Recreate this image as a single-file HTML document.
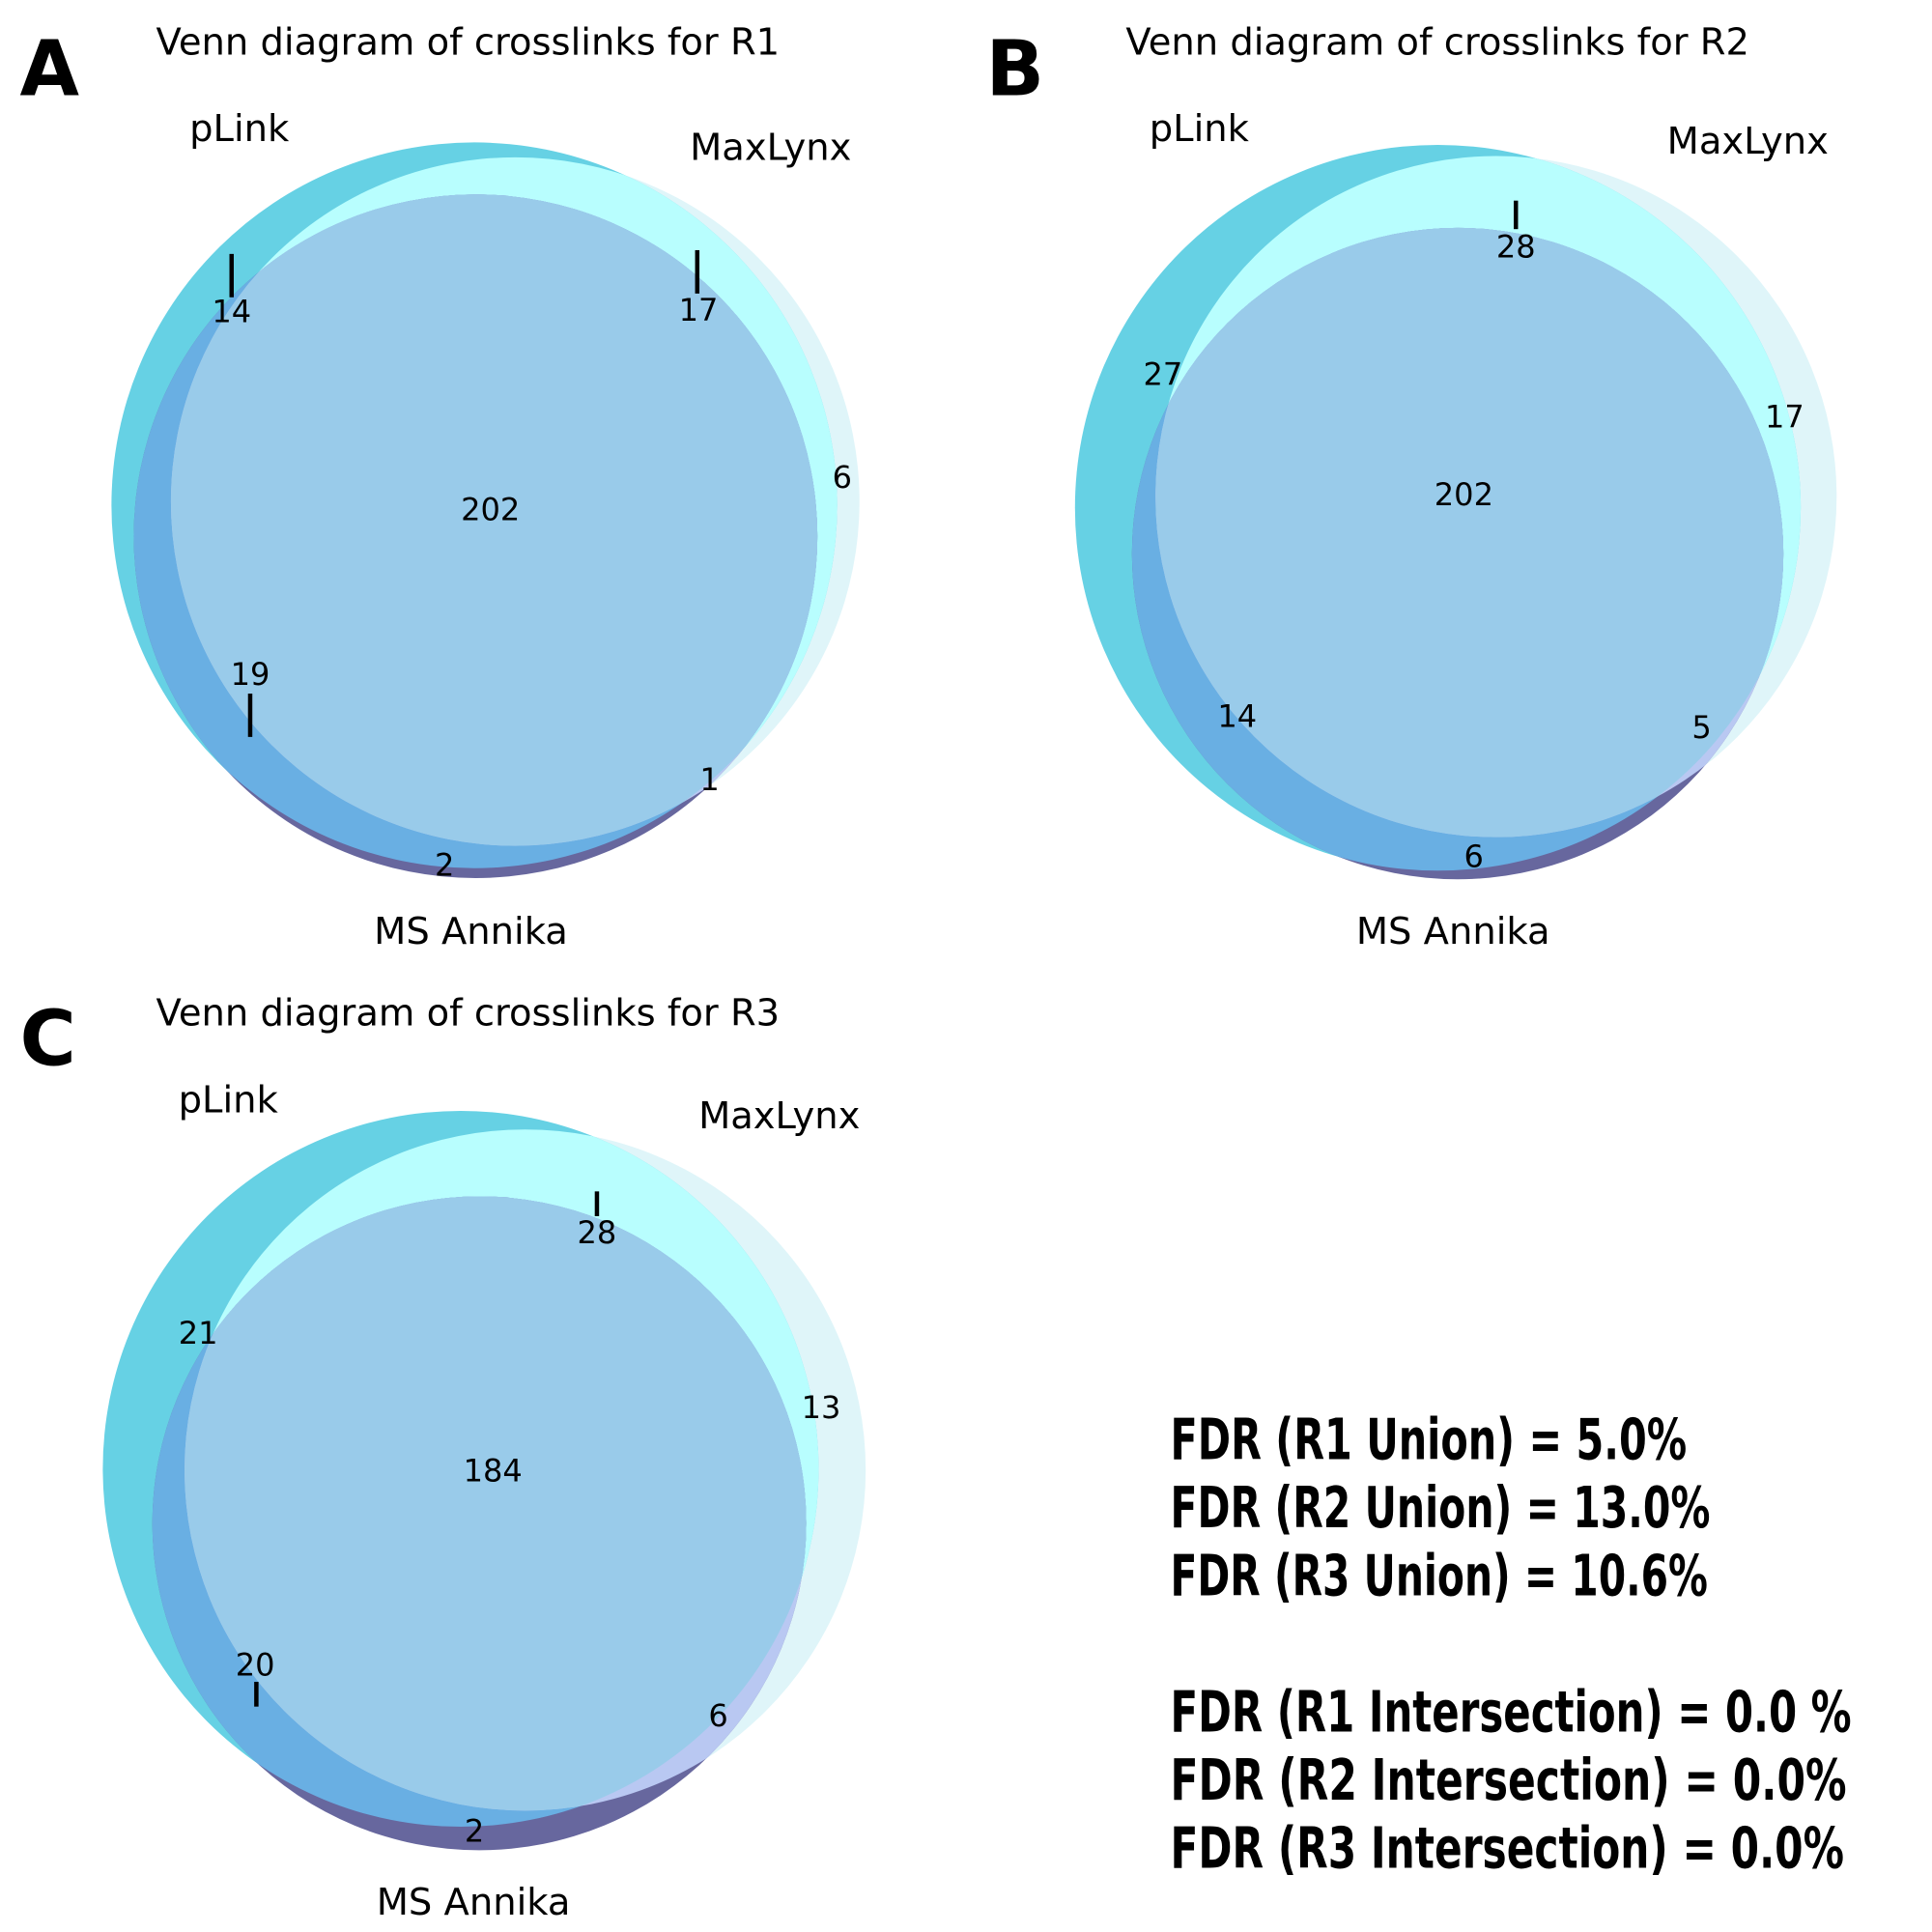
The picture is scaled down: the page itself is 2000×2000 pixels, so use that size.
<!DOCTYPE html>
<html><head><meta charset="utf-8"><style>
html,body{margin:0;padding:0;background:#fff;}
svg{display:block;}
text{font-family:"DejaVu Sans","Liberation Sans",sans-serif;}
</style></head><body>
<svg id="fig" width="2000" height="2000" viewBox="0 0 1560 1560" xmlns="http://www.w3.org/2000/svg">
<defs id="defs"></defs>
<g id="panels"></g>
<g font-weight="bold" font-size="46" fill="#000" style="font-family:'Liberation Sans',sans-serif">
<text x="945" y="1178" textLength="417" lengthAdjust="spacingAndGlyphs">FDR (R1 Union)  = 5.0%</text>
<text x="945" y="1233" textLength="436" lengthAdjust="spacingAndGlyphs">FDR (R2 Union) = 13.0%</text>
<text x="945" y="1288" textLength="434" lengthAdjust="spacingAndGlyphs">FDR (R3 Union) = 10.6%</text>
<text x="945" y="1398" textLength="550" lengthAdjust="spacingAndGlyphs">FDR (R1 Intersection)  = 0.0 %</text>
<text x="945" y="1453" textLength="546" lengthAdjust="spacingAndGlyphs">FDR (R2 Intersection) = 0.0%</text>
<text x="945" y="1508" textLength="544" lengthAdjust="spacingAndGlyphs">FDR (R3 Intersection) = 0.0%</text>
</g>
</svg>
<script>
// Region counts per replicate: [pLink only, MaxLynx only, pLink∩MaxLynx, MS only, pLink∩MS, MaxLynx∩MS, all three]
const panelNames = ["R1", "R2", "R3"];
const countsR1 = [14, 6, 17, 2, 19, 1, 202];
const countsR2 = [27, 17, 28, 6, 14, 5, 202];
const countsR3 = [21, 13, 28, 2, 20, 6, 184];
const allCounts = [countsR1, countsR2, countsR3];

const NS = "http://www.w3.org/2000/svg";
const defs = document.getElementById("defs");
const root = document.getElementById("panels");

// layout (geometry, not data)
const layouts = [
  {letter:"A", lx:16, ly:77, tx:126, ty:44,
   P:[383,408,293], M:[416,405,278], S:[384,433,276],
   setLbl:[[153,114],[557,129],[302,762]],
   lbl:[[187,260],[680,394],[564,259],[359,707],[202,553],[573,638],[396,420]],
   ticks:[[187,205,187,240],[563,202,563,237],[202,560,202,595]]},
  {letter:"B", lx:796, ly:77, tx:909, ty:44,
   P:[1161,410,293], M:[1208,401,275], S:[1177,447,263],
   setLbl:[[928,114],[1346,124],[1095,762]],
   lbl:[[939,311],[1441,345],[1224,208],[1190,700],[999,587],[1374,596],[1182,408]],
   ticks:[[1224,162,1224,185]]},
  {letter:"C", lx:16, ly:860, tx:126, ty:828,
   P:[372,1186,289], M:[424,1187,275], S:[387,1230,264],
   setLbl:[[144,898],[564,911],[304,1546]],
   lbl:[[160,1085],[663,1145],[482,1004],[383,1487],[206,1353],[580,1394],[398,1196]],
   ticks:[[482,962,482,982],[207,1358,207,1378]]}
];
const cols = {P:"#66d1e4", M:"#dff5f9", PM:"#b8fefe", S:"#67679e", PS:"#69afe3", MS:"#b9c8f2", PMS:"#99cbea"};

function circ(c, fill, clip){
  const e = document.createElementNS(NS,"circle");
  e.setAttribute("cx",c[0]); e.setAttribute("cy",c[1]); e.setAttribute("r",c[2]);
  if(fill) e.setAttribute("fill",fill);
  if(clip) e.setAttribute("clip-path","url(#"+clip+")");
  return e;
}
function clipOf(id,c){
  const cp = document.createElementNS(NS,"clipPath");
  cp.setAttribute("id",id);
  cp.appendChild(circ(c));
  defs.appendChild(cp);
}
function txt(parent,x,y,s,size,anchor){
  const t = document.createElementNS(NS,"text");
  t.setAttribute("x",x); t.setAttribute("y",y); t.setAttribute("font-size",size);
  if(anchor) t.setAttribute("text-anchor",anchor);
  t.textContent = s; parent.appendChild(t); return t;
}

layouts.forEach((L,i)=>{
  const counts = allCounts[i];
  const g = document.createElementNS(NS,"g");
  
  
  root.appendChild(g);
  const id = "p"+i;
  clipOf(id+"P",L.P); clipOf(id+"M",L.M); clipOf(id+"S",L.S);
  const cpPM = document.createElementNS(NS,"clipPath");
  cpPM.setAttribute("id",id+"PM");
  cpPM.appendChild(circ(L.M,null,id+"P")); defs.appendChild(cpPM);

  const shapes = document.createElementNS(NS,"g");
  
  
  g.appendChild(shapes);
  const m = circ(L.M,cols.M);
  
  
  shapes.appendChild(m);
  const p = circ(L.P,cols.P);
  
  
  shapes.appendChild(p);
  const pm = circ(L.M,cols.PM,id+"P");
  
  
  shapes.appendChild(pm);
  const s = circ(L.S,cols.S);
  
  
  shapes.appendChild(s);
  const ps = circ(L.S,cols.PS,id+"P");
  
  
  shapes.appendChild(ps);
  const ms = circ(L.S,cols.MS,id+"M");
  
  
  shapes.appendChild(ms);
  const pms = circ(L.S,cols.PMS,id+"PM");
  
  
  shapes.appendChild(pms);

  L.ticks.forEach(t=>{
    const ln = document.createElementNS(NS,"line");
    ln.setAttribute("x1",t[0]); ln.setAttribute("y1",t[1]); ln.setAttribute("x2",t[2]); ln.setAttribute("y2",t[3]);
    ln.setAttribute("stroke","#000"); ln.setAttribute("stroke-width","3.5");
    
    
    g.appendChild(ln);
  });

  counts.forEach((c,k)=>{
    const t = txt(g,L.lbl[k][0],L.lbl[k][1],String(c),25,"middle");
    
    
  });

  const setNames = ["pLink","MaxLynx","MS Annika"];
  setNames.forEach((n,k)=>{
    const t = txt(g,L.setLbl[k][0],L.setLbl[k][1],n,30);
    
    
  });
  const title = txt(g,L.tx,L.ty,"Venn diagram of crosslinks for "+panelNames[i],30);
  
  
  const letter = txt(g,L.lx,L.ly,L.letter,62);
  letter.setAttribute("font-weight","bold");
  
  
});
</script>
</body></html>
